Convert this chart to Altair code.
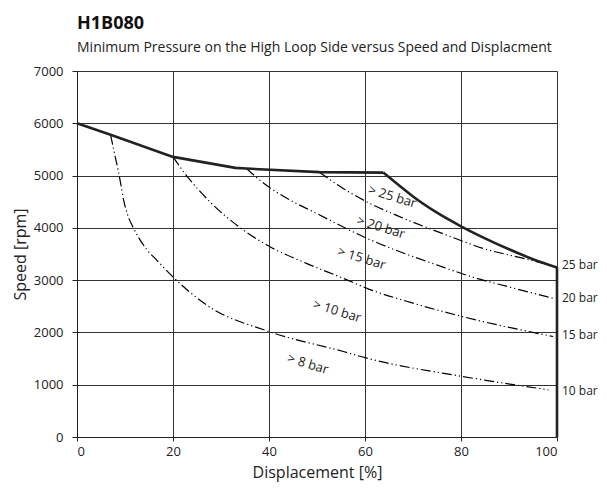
import altair as alt
import pandas as pd

FONT = "Open Sans"

# Envelope (maximum speed curve): linear part, curved part, vertical edge
env1_x = [0, 7, 20, 33, 35.3, 50.5, 63.8]
env1_y = [6000, 5780, 5357, 5147, 5134, 5065, 5057]
env2_x = [63.8, 67, 70, 75, 80, 85, 90, 95, 100]
env2_y = [5057, 4820, 4600, 4290, 4030, 3800, 3590, 3400, 3240]
env3_x = [100, 100]
env3_y = [3240, 0]

# Constant minimum-pressure boundary curves
c25_x = [50.5, 55, 60.4, 67.3, 77, 84.6, 93, 100]
c25_y = [5065, 4780, 4496, 4211, 3862, 3607, 3416, 3250]

c20_x = [35.3, 38.1, 45, 48.5, 60.4, 75.6, 83.3, 90, 99.2]
c20_y = [5134, 4910, 4500, 4340, 3800, 3270, 3034, 2870, 2652]

c15_x = [20, 22.5, 27.7, 34, 40.2, 47.8, 55.5, 60.4, 70, 80.3, 99.2]
c15_y = [5357, 5038, 4498, 4002, 3639, 3321, 3034, 2843, 2560, 2303, 1922]

c10_x = [7, 7.6, 9, 9.65, 10.5, 11.7, 13, 14.5, 16.6, 20.1, 27, 40, 55.5, 60.4, 80.3, 98.2]
c10_y = [5780, 5515, 4900, 4561, 4260, 4008, 3790, 3590, 3384, 3053, 2525, 2017, 1635, 1508, 1158, 903]

# Region labels
reg_text = ["> 25 bar", "> 20 bar", "> 15 bar", "> 10 bar", "> 8 bar"]
reg_x = [65.7, 63.3, 59.3, 54.2, 48.1]
reg_y = [4593, 4008, 3416, 2404, 1393]

# End labels
end_text = ["25 bar", "20 bar", "15 bar", "10 bar"]
end_y = [3290, 2650, 1950, 880]

rows = []
for name, xs, ys in [("25", c25_x, c25_y), ("20", c20_x, c20_y),
                     ("15", c15_x, c15_y), ("10", c10_x, c10_y)]:
    for i, (a, b) in enumerate(zip(xs, ys)):
        rows.append({"series": name, "x": a, "y": b, "o": i})
df_dash = pd.DataFrame(rows)


def env_df(xs, ys):
    return pd.DataFrame({"x": xs, "y": ys, "o": list(range(len(xs)))})


df_env1 = env_df(env1_x, env1_y)
df_env2 = env_df(env2_x, env2_y)
df_env3 = env_df(env3_x, env3_y)
df_reg = pd.DataFrame({"x": reg_x, "y": reg_y, "t": reg_text})
df_end = pd.DataFrame({"x": [100] * len(end_y), "y": end_y, "t": end_text})

X = alt.X("x:Q", scale=alt.Scale(domain=[0, 100], nice=False),
          axis=alt.Axis(title="Displacement [%]", values=[0, 20, 40, 60, 80, 100],
                        format="d",
                        grid=True, gridColor="#333", gridWidth=1,
                        domainColor="#222", tickColor="#222", tickSize=4,
                        labelFont=FONT, labelFontSize=13, labelColor="#222",
                        labelPadding=4, titleFont=FONT, titleFontSize=16,
                        titleFontWeight="normal", titleColor="#222",
                        titleY=35, titleBaseline="middle"))
Y = alt.Y("y:Q", scale=alt.Scale(domain=[0, 7000], nice=False),
          axis=alt.Axis(title="Speed [rpm]", values=list(range(0, 7001, 1000)),
                        format="d",
                        grid=True, gridColor="#333", gridWidth=1,
                        domainColor="#222", tickColor="#222", tickSize=5,
                        labelFont=FONT, labelFontSize=13, labelColor="#222",
                        labelPadding=9, titleFont=FONT, titleFontSize=16,
                        titleFontWeight="normal", titleColor="#222",
                        titleX=-57, titleY=183, titleBaseline="middle"))

dash = alt.Chart(df_dash).mark_line(
    stroke="black", strokeWidth=1.2, strokeDash=[10, 3, 1.2, 3, 1.2, 3],
    interpolate="monotone"
).encode(x=X, y=Y, detail="series:N", order="o:Q")

env1 = alt.Chart(df_env1).mark_line(stroke="#222", strokeWidth=2.6).encode(
    x=X, y=Y, order="o:Q")
env2 = alt.Chart(df_env2).mark_line(stroke="#222", strokeWidth=2.6,
                                    interpolate="monotone").encode(
    x=X, y=Y, order="o:Q")
env3 = alt.Chart(df_env3).mark_line(stroke="#222", strokeWidth=2.6).encode(
    x=X, y=Y, order="o:Q")

reg = alt.Chart(df_reg).mark_text(
    font=FONT, fontSize=13, angle=17, color="#222", align="center", baseline="middle"
).encode(x=X, y=Y, text="t:N")

end = alt.Chart(df_end).mark_text(
    font=FONT, fontSize=12, color="#222", align="left", baseline="middle", dx=5
).encode(x=X, y=Y, text="t:N")

chart = alt.layer(dash, env1, env2, env3, reg, end).properties(
    width=480, height=366,
    autosize=alt.AutoSizeParams(type="none"),
    padding={"left": 69, "top": 63, "right": 42, "bottom": 45},
    title=alt.TitleParams(
        text="H1B080",
        subtitle="Minimum Pressure on the High Loop Side versus Speed and Displacment",
        anchor="start", frame="group", font=FONT, fontSize=18, fontWeight="bold",
        color="#111", subtitleFont=FONT, subtitleFontSize=14, subtitleColor="#222",
        subtitlePadding=8, offset=10,
    ),
).configure_view(stroke=None).configure(background="white")

chart.save("out.html", embed_options={"renderer": "svg", "actions": False})
